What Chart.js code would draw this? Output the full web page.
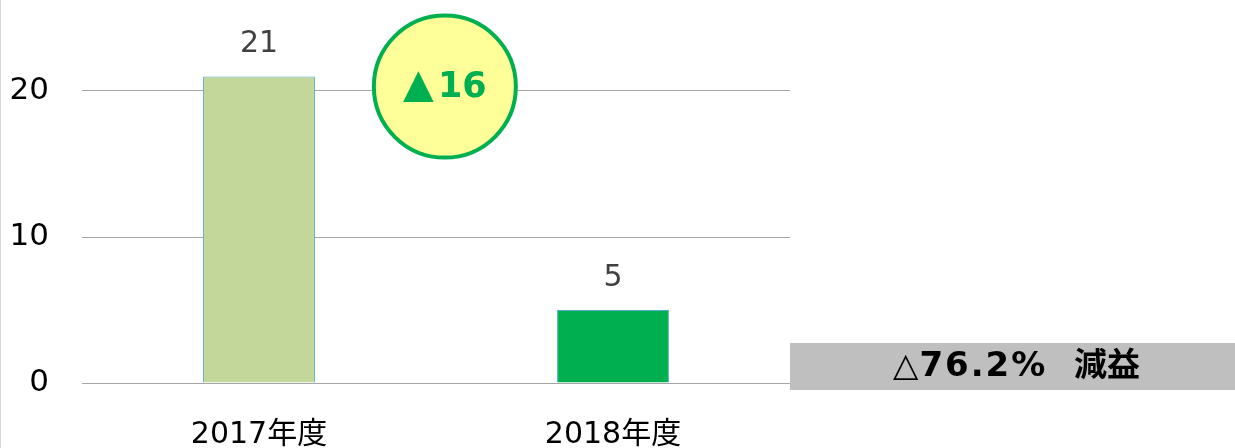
<!DOCTYPE html>
<html lang="ja">
<head>
<meta charset="utf-8">
<title>減益グラフ</title>
<script src="https://cdn.jsdelivr.net/npm/chart.js@4/dist/chart.umd.min.js"></script>
<style>
  html, body { margin: 0; padding: 0; background: #fff; overflow: hidden; }
  #wrap { position: relative; width: 1235px; height: 448px; }
</style>
</head>
<body>
<div id="wrap"><canvas id="chart" width="1235" height="448"></canvas></div>
<script>
// ── Données ────────────────────────────────────────────────────────────────
const CATEGORIES = ['2017年度', '2018年度'];
const VALUES     = [21, 5];
const BAR_COLORS = ['#C4D79B', '#00B050'];
const Y_TICKS    = [0, 10, 20];
const Y_MAX      = 25;
const DIFF_LABEL = '▲16';
const RATE_MARK  = '△';
const RATE_VALUE = '76.2%';
const RATE_WORD  = '減益';

const FONT = '"DejaVu Sans", "Noto Sans CJK JP", sans-serif';

// ── Plugins de rendu ───────────────────────────────────────────────────────

const valueLabels = {
  id: 'valueLabels',
  afterDatasetsDraw(chart) {
    const { ctx } = chart;
    ctx.save();
    ctx.font = `30px ${FONT}`;
    ctx.fillStyle = '#404040';
    ctx.textAlign = 'center';
    ctx.textBaseline = 'bottom';
    chart.getDatasetMeta(0).data.forEach((bar, i) => {
      ctx.fillText(String(VALUES[i]), bar.x, bar.y - 17);
    });
    ctx.restore();
  },
};

const annotations = {
  id: 'annotations',
  afterDraw(chart) {
    const { ctx, chartArea, scales: { x, y } } = chart;
    ctx.save();

    // bordure gauche
    ctx.fillStyle = '#D9D9D9';
    ctx.fillRect(0, 0, 1, chart.height);

    // bulle de différence
    const cx = x.getPixelForValue(0.525);
    const cy = y.getPixelForValue(20.3);
    ctx.beginPath();
    ctx.arc(cx, cy, 71, 0, Math.PI * 2);
    ctx.fillStyle = '#FFFF99';
    ctx.fill();
    ctx.lineWidth = 4;
    ctx.strokeStyle = '#00B050';
    ctx.stroke();
    ctx.fillStyle = '#00B050';
    ctx.textBaseline = 'middle';
    ctx.textAlign = 'left';
    ctx.font = `bold 40px ${FONT}`;
    const tri = DIFF_LABEL.slice(0, 1), num = DIFF_LABEL.slice(1);
    const wTri = ctx.measureText(tri).width;
    ctx.font = `bold 35px ${FONT}`;
    const wNum = ctx.measureText(num).width;
    const sx = cx - (wTri + wNum + 4) / 2;
    ctx.font = `bold 40px ${FONT}`;
    ctx.fillText(tri, sx, cy);
    ctx.font = `bold 35px ${FONT}`;
    ctx.fillText(num, sx + wTri + 4, cy + 1);

    // bandeau de taux
    const top = chartArea.bottom - 40;
    ctx.fillStyle = '#BFBFBF';
    ctx.fillRect(chartArea.right, top, chart.width - chartArea.right, 47);
    const ty = top + 24;
    let tx = chartArea.right + 103;
    ctx.fillStyle = '#000';
    ctx.textAlign = 'left';
    ctx.textBaseline = 'middle';
    ctx.font = `33px ${FONT}`;
    ctx.fillText(RATE_MARK, tx, ty);
    tx += ctx.measureText(RATE_MARK).width + 1;
    ctx.font = `bold 34px ${FONT}`;
    ctx.letterSpacing = '2px';
    ctx.fillText(RATE_VALUE, tx, ty);
    ctx.letterSpacing = '0px';
    ctx.font = `bold 33px ${FONT}`;
    ctx.fillText(RATE_WORD, chartArea.right + 284, ty);

    ctx.restore();
  },
};

// ── Graphique ──────────────────────────────────────────────────────────────

new Chart(document.getElementById('chart'), {
  type: 'bar',
  data: {
    labels: CATEGORIES,
    datasets: [{
      data: VALUES,
      backgroundColor: BAR_COLORS,
      borderColor: '#4BACC6',
      borderWidth: 1,
      barPercentage: 1,
      categoryPercentage: 0.316,
    }],
  },
  options: {
    responsive: false,
    animation: false,
    layout: { padding: { top: 18, right: 445, left: 0, bottom: 0 } },
    plugins: {
      legend: { display: false },
      tooltip: { enabled: false },
    },
    scales: {
      x: {
        grid: { display: false, drawTicks: false },
        border: { display: false },
        ticks: { color: '#000', font: { size: 30, family: FONT }, padding: 34 },
        afterFit: s => { s.height = 65; s.paddingLeft = 0; s.paddingRight = 0; },
      },
      y: {
        min: 0, max: Y_MAX,
        grid: { color: '#A6A6A6', lineWidth: 1, drawTicks: false },
        border: { display: false },
        ticks: { color: '#000', font: { size: 31, family: FONT }, padding: 33 },
        afterBuildTicks: s => { s.ticks = Y_TICKS.map(v => ({ value: v })); },
        afterFit: s => { s.width = 82; s.paddingTop = 0; s.paddingBottom = 0; },
      },
    },
  },
  plugins: [valueLabels, annotations],
});
</script>
</body>
</html>
